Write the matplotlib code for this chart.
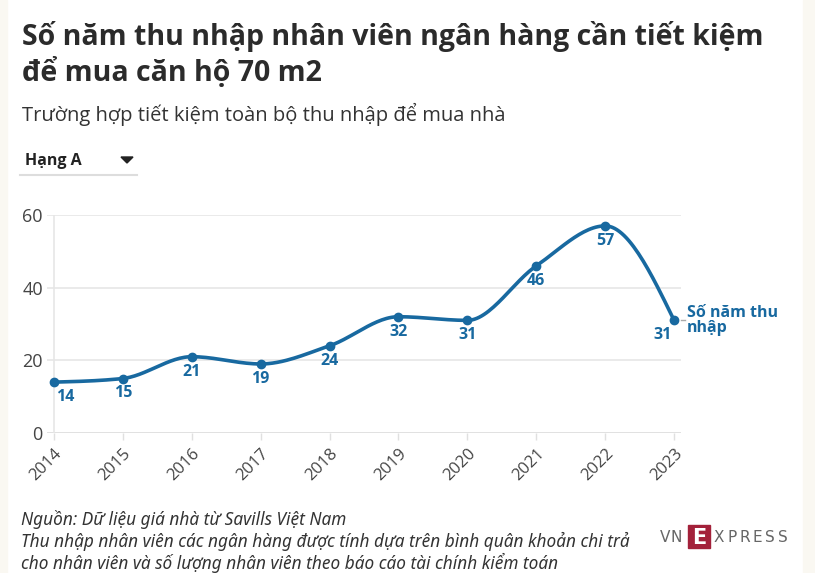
import numpy as np
import matplotlib
matplotlib.use("Agg")
import matplotlib.pyplot as plt
from matplotlib.patches import Rectangle, Polygon

years = [2014, 2015, 2016, 2017, 2018, 2019, 2020, 2021, 2022, 2023]
values = [14, 15, 21, 19, 24, 32, 31, 46, 57, 31]
y_ticks = [0, 20, 40, 60]

title_lines = ["Số năm thu nhập nhân viên ngân hàng cần tiết kiệm", "để mua căn hộ 70 m2"]
subtitle = "Trường hợp tiết kiệm toàn bộ thu nhập để mua nhà"
series_name = "Số năm thu\nnhập"
dropdown = "Hạng A"
footer = ["Nguồn: Dữ liệu giá nhà từ Savills Việt Nam",
          "Thu nhập nhân viên các ngân hàng được tính dựa trên bình quân khoản chi trả",
          "cho nhân viên và số lượng nhân viên theo báo cáo tài chính kiểm toán"]

BLUE = "#1869a0"
FONT = ["Open Sans", "DejaVu Sans"]
plt.rcParams['font.family'] = FONT


def monotone_x(x, y, n=30):
    x = np.asarray(x, float); y = np.asarray(y, float)
    h = np.diff(x); s = np.diff(y) / h
    m = np.zeros_like(y)
    for k in range(1, len(y) - 1):
        s0, s1, h0, h1 = s[k-1], s[k], h[k-1], h[k]
        p = (s0 * h1 + s1 * h0) / (h0 + h1)
        m[k] = (np.sign(s0) + np.sign(s1)) * min(abs(s0), abs(s1), 0.5 * abs(p))
    m[0] = (3 * s[0] - m[1]) / 2
    m[-1] = (3 * s[-1] - m[-2]) / 2
    xs, ys = [], []
    for k in range(len(h)):
        t = np.linspace(0, 1, n)
        h00 = 2*t**3 - 3*t**2 + 1; h10 = t**3 - 2*t**2 + t
        h01 = -2*t**3 + 3*t**2; h11 = t**3 - t**2
        xs.append(x[k] + t * h[k])
        ys.append(h00*y[k] + h10*h[k]*m[k] + h01*y[k+1] + h11*h[k]*m[k+1])
    return np.concatenate(xs), np.concatenate(ys)


fig = plt.figure(figsize=(8.15, 5.73), dpi=100)
fig.patch.set_facecolor("white")
W, H = 815, 573
fig.add_artist(Rectangle((0, 0), 7/W, 1, transform=fig.transFigure, color="#faf8f2", zorder=0))
fig.add_artist(Rectangle((803/W, 0), 12/W, 1, transform=fig.transFigure, color="#faf8f2", zorder=0))

x0px, x1px = 47, 681
ybot, ytop = 433, 215
ax = fig.add_axes([x0px/W, 1 - ybot/H, (x1px - x0px)/W, (ybot - ytop)/H])
ax.set_xlim(2014 - 0.1, 2023 + 0.1)
ax.set_ylim(0, 60)
for sp in ax.spines.values():
    sp.set_visible(False)
ax.set_yticks(y_ticks)
ax.set_yticklabels([str(v) for v in y_ticks])
ax.grid(axis="y", color="#e6e6e6", lw=1.2)
ax.set_axisbelow(True)
ax.set_xticks(years)
ax.set_xticklabels([str(y) for y in years], rotation=45, ha="right", rotation_mode="anchor")
ax.tick_params(axis="y", length=0, pad=3, labelsize=13, labelcolor="#444444")
ax.tick_params(axis="x", length=5, width=1, color="#e0e0e0", pad=4, labelsize=12, labelcolor="#444444")
ax.axhline(0, color="#e0e0e0", lw=1.2, zorder=1)
ax.axvline(2014, color="#e6e6e6", lw=1.2, ymax=1.0, zorder=1)

cx, cy = monotone_x(years, values)
ax.plot(cx, cy, color=BLUE, lw=2.6, clip_on=False, zorder=3, solid_capstyle="round")
ax.scatter(years, values, s=36, color=BLUE, zorder=4, clip_on=False)

for i, (x, v) in enumerate(zip(years, values)):
    dx = 0
    if i == 0:
        dx = 8
    elif i == len(years) - 1:
        dx = -8
    ax.annotate(str(v), (x, v), xytext=(dx, -5), textcoords="offset points",
                ha="center", va="top", fontsize=11.5, fontweight="bold", color=BLUE)

ax.annotate(series_name, (years[-1], values[-1]), xytext=(9, 0), textcoords="offset points",
            ha="left", va="center", fontsize=11.5, fontweight="bold", color=BLUE,
            linespacing=0.9)
fig.add_artist(plt.Line2D([681/W, 685/W], [1 - 320/H, 1 - 320/H], color="#aaaaaa", lw=1))

for k, (line, base) in enumerate(zip(title_lines, [45, 81])):
    fig.text(22/W, 1 - base/H, line, ha="left", va="baseline", fontsize=20.5, fontweight="bold",
             color="#2b2b2b")
fig.text(22/W, 1 - 121/H, subtitle, ha="left", va="baseline", fontsize=14.5, color="#333333")

fig.text(25/W, 1 - 161/H, dropdown, ha="left", va="center", fontsize=11.5, fontweight="bold", color="#222222")
fig.add_artist(Polygon([[121/W, 1 - 157/H], [133/W, 1 - 157/H], [127/W, 1 - 163/H]],
                       closed=True, transform=fig.transFigure, color="#222222"))
fig.add_artist(plt.Line2D([20/W, 137/W], [1 - 175/H, 1 - 175/H], color="#dddddd", lw=1.5))

for k, line in enumerate(footer):
    fig.text(21/W, 1 - (525 + 22*k)/H, line, ha="left", va="baseline", fontsize=12.4,
             fontstyle="italic", color="#333333", family=["Noto Sans", "DejaVu Sans"])

# logo
LOGO_GRAY = "#666666"
for j, ch in enumerate("VN"):
    fig.text((665 + 11*j)/W, 1 - 542/H, ch, ha="center", va="baseline", fontsize=11,
             color=LOGO_GRAY, family=["DejaVu Sans"])
fig.add_artist(Rectangle((688/W, 1 - 548/H), 22/W, 23/H, transform=fig.transFigure, color="#a3213a"))
fig.text(699/W, 1 - 543.5/H, "E", ha="center", va="baseline", fontsize=15, color="white",
         fontweight="bold", family=["DejaVu Sans"])
for j, ch in enumerate("XPRESS"):
    fig.text((719 + 12.8*j)/W, 1 - 542/H, ch, ha="center", va="baseline", fontsize=11,
             color=LOGO_GRAY, family=["DejaVu Sans"])

fig.savefig("out.png", dpi=100)
